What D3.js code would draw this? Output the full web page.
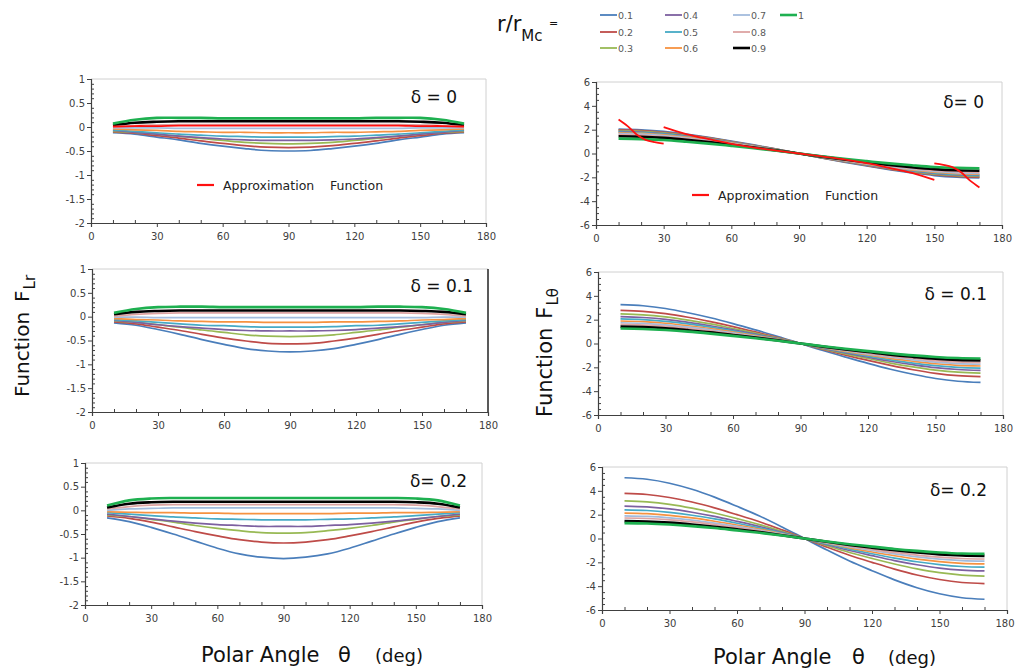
<!DOCTYPE html>
<html>
<head>
<meta charset="utf-8">
<script src="https://cdn.jsdelivr.net/npm/d3@7"></script>
<style>
  body { margin: 0; background: #fff; }
  svg text { font-family: "DejaVu Sans", Verdana, sans-serif; }
</style>
</head>
<body>
<svg id="chart" width="1015" height="670"></svg>
<script>
// Polar angle samples (deg)
const theta = [10, 20, 30, 40, 50, 60, 70, 80, 90, 100, 110, 120, 130, 140, 150, 160, 170];

// r / r_Mc series
const rRatios = ["0.1", "0.2", "0.3", "0.4", "0.5", "0.6", "0.7", "0.8", "0.9", "1"];

// Radial function F_Lr, delta = 0
const fLr_d0 = [
  [-0.12,-0.15,-0.21,-0.27,-0.34,-0.40,-0.45,-0.49,-0.50,-0.49,-0.45,-0.40,-0.34,-0.27,-0.21,-0.15,-0.12],
  [-0.10,-0.13,-0.18,-0.23,-0.29,-0.34,-0.39,-0.42,-0.43,-0.42,-0.39,-0.34,-0.29,-0.23,-0.18,-0.13,-0.10],
  [-0.09,-0.11,-0.15,-0.19,-0.24,-0.28,-0.32,-0.34,-0.35,-0.34,-0.32,-0.28,-0.24,-0.19,-0.15,-0.11,-0.09],
  [-0.07,-0.11,-0.15,-0.19,-0.22,-0.25,-0.27,-0.28,-0.28,-0.28,-0.27,-0.25,-0.22,-0.19,-0.15,-0.11,-0.07],
  [-0.06,-0.09,-0.12,-0.15,-0.17,-0.19,-0.20,-0.21,-0.21,-0.21,-0.20,-0.19,-0.17,-0.15,-0.12,-0.09,-0.06],
  [-0.04,-0.06,-0.07,-0.09,-0.10,-0.11,-0.11,-0.12,-0.12,-0.12,-0.11,-0.11,-0.10,-0.09,-0.07,-0.06,-0.04],
  [-0.02,-0.02,-0.02,-0.03,-0.03,-0.03,-0.03,-0.03,-0.03,-0.03,-0.03,-0.03,-0.03,-0.03,-0.02,-0.02,-0.02],
  [0.00,0.03,0.04,0.05,0.05,0.05,0.05,0.05,0.05,0.05,0.05,0.05,0.05,0.05,0.04,0.03,0.00],
  [0.04,0.09,0.11,0.12,0.12,0.12,0.12,0.12,0.12,0.12,0.12,0.12,0.12,0.12,0.11,0.09,0.04],
  [0.07,0.15,0.19,0.19,0.19,0.18,0.18,0.18,0.18,0.18,0.18,0.18,0.19,0.19,0.19,0.15,0.07]
];
// Approximation of F_Lr, delta = 0
const fLrApprox_d0 = [0.01,0.02,0.02,0.03,0.03,0.03,0.03,0.03,0.03,0.03,0.03,0.03,0.03,0.03,0.02,0.02,0.01];

// Radial function F_Lr, delta = 0.1
const fLr_d01 = [
  [-0.13,-0.18,-0.27,-0.37,-0.48,-0.58,-0.67,-0.72,-0.74,-0.72,-0.67,-0.58,-0.48,-0.37,-0.27,-0.18,-0.13],
  [-0.11,-0.15,-0.22,-0.29,-0.37,-0.45,-0.51,-0.56,-0.57,-0.56,-0.51,-0.45,-0.37,-0.29,-0.22,-0.15,-0.11],
  [-0.09,-0.12,-0.17,-0.22,-0.28,-0.33,-0.38,-0.41,-0.42,-0.41,-0.38,-0.33,-0.28,-0.22,-0.17,-0.12,-0.09],
  [-0.08,-0.12,-0.17,-0.21,-0.24,-0.27,-0.29,-0.30,-0.30,-0.30,-0.29,-0.27,-0.24,-0.21,-0.17,-0.12,-0.08],
  [-0.06,-0.09,-0.12,-0.15,-0.18,-0.19,-0.21,-0.22,-0.22,-0.22,-0.21,-0.19,-0.18,-0.15,-0.12,-0.09,-0.06],
  [-0.04,-0.06,-0.07,-0.09,-0.10,-0.11,-0.11,-0.12,-0.12,-0.12,-0.11,-0.11,-0.10,-0.09,-0.07,-0.06,-0.04],
  [-0.01,-0.01,-0.02,-0.02,-0.02,-0.02,-0.02,-0.02,-0.02,-0.02,-0.02,-0.02,-0.02,-0.02,-0.02,-0.01,-0.01],
  [0.01,0.05,0.07,0.08,0.08,0.08,0.08,0.08,0.08,0.08,0.08,0.08,0.08,0.08,0.07,0.05,0.01],
  [0.05,0.10,0.12,0.13,0.13,0.13,0.13,0.13,0.13,0.13,0.13,0.13,0.13,0.13,0.12,0.10,0.05],
  [0.08,0.16,0.20,0.21,0.21,0.20,0.20,0.20,0.20,0.20,0.20,0.20,0.21,0.21,0.20,0.16,0.08]
];

// Radial function F_Lr, delta = 0.2
const fLr_d02 = [
  [-0.16,-0.24,-0.36,-0.50,-0.65,-0.80,-0.92,-0.99,-1.02,-0.99,-0.92,-0.80,-0.65,-0.50,-0.36,-0.24,-0.16],
  [-0.12,-0.17,-0.25,-0.35,-0.45,-0.54,-0.62,-0.67,-0.69,-0.67,-0.62,-0.54,-0.45,-0.35,-0.25,-0.17,-0.12],
  [-0.10,-0.13,-0.19,-0.25,-0.32,-0.38,-0.43,-0.47,-0.48,-0.47,-0.43,-0.38,-0.32,-0.25,-0.19,-0.13,-0.10],
  [-0.08,-0.13,-0.18,-0.23,-0.27,-0.30,-0.32,-0.34,-0.34,-0.34,-0.32,-0.30,-0.27,-0.23,-0.18,-0.13,-0.08],
  [-0.05,-0.08,-0.11,-0.14,-0.16,-0.18,-0.19,-0.20,-0.20,-0.20,-0.19,-0.18,-0.16,-0.14,-0.11,-0.08,-0.05],
  [-0.03,-0.04,-0.05,-0.05,-0.06,-0.06,-0.07,-0.07,-0.07,-0.07,-0.07,-0.06,-0.06,-0.05,-0.05,-0.04,-0.03],
  [0.00,0.03,0.04,0.05,0.05,0.05,0.05,0.05,0.05,0.05,0.05,0.05,0.05,0.05,0.04,0.03,0.00],
  [0.03,0.08,0.11,0.12,0.12,0.12,0.12,0.12,0.12,0.12,0.12,0.12,0.12,0.12,0.11,0.08,0.03],
  [0.06,0.14,0.17,0.18,0.18,0.18,0.18,0.18,0.18,0.18,0.18,0.18,0.18,0.18,0.17,0.14,0.06],
  [0.10,0.21,0.25,0.26,0.26,0.26,0.26,0.26,0.26,0.26,0.26,0.26,0.26,0.26,0.25,0.21,0.10]
];

// Tangential function F_Ltheta, delta = 0
const fLt_d0 = [
  [2.05,1.99,1.85,1.62,1.35,1.05,0.72,0.37,0,-0.37,-0.72,-1.05,-1.35,-1.62,-1.85,-1.99,-2.05],
  [1.98,1.92,1.78,1.56,1.31,1.01,0.69,0.36,0,-0.36,-0.69,-1.01,-1.31,-1.56,-1.78,-1.92,-1.98],
  [1.92,1.86,1.73,1.52,1.27,0.98,0.67,0.35,0,-0.35,-0.67,-0.98,-1.27,-1.52,-1.73,-1.86,-1.92],
  [1.86,1.80,1.67,1.47,1.23,0.95,0.65,0.33,0,-0.33,-0.65,-0.95,-1.23,-1.47,-1.67,-1.80,-1.86],
  [1.80,1.75,1.62,1.42,1.19,0.92,0.63,0.32,0,-0.32,-0.63,-0.92,-1.19,-1.42,-1.62,-1.75,-1.80],
  [1.74,1.69,1.57,1.37,1.15,0.89,0.61,0.31,0,-0.31,-0.61,-0.89,-1.15,-1.37,-1.57,-1.69,-1.74],
  [1.67,1.62,1.50,1.32,1.10,0.85,0.58,0.30,0,-0.30,-0.58,-0.85,-1.10,-1.32,-1.50,-1.62,-1.67],
  [1.58,1.53,1.42,1.25,1.04,0.81,0.55,0.28,0,-0.28,-0.55,-0.81,-1.04,-1.25,-1.42,-1.53,-1.58],
  [1.45,1.41,1.31,1.15,0.96,0.74,0.51,0.26,0,-0.26,-0.51,-0.74,-0.96,-1.15,-1.31,-1.41,-1.45],
  [1.25,1.21,1.13,0.99,0.83,0.64,0.44,0.23,0,-0.23,-0.44,-0.64,-0.83,-0.99,-1.13,-1.21,-1.25]
];
// Approximation of F_Ltheta, delta = 0 (three branches)
const approxTheta1 = [10, 14, 18, 22, 26, 30];
const approxValue1 = [2.85, 2.30, 1.60, 1.15, 0.95, 0.83];
const approxTheta2 = [30, 40, 50, 60, 70, 80, 90, 100, 110, 120, 130, 140, 150];
const approxValue2 = [2.21, 1.63, 1.20, 0.81, 0.50, 0.25, 0, -0.25, -0.50, -0.81, -1.20, -1.63, -2.21];
const approxTheta3 = [150, 154, 158, 162, 166, 170];
const approxValue3 = [-0.83, -0.95, -1.15, -1.60, -2.30, -2.85];

// Tangential function F_Ltheta, delta = 0.1
const fLt_d01 = [
  [3.27,3.17,2.94,2.58,2.16,1.67,1.14,0.59,0,-0.59,-1.14,-1.67,-2.16,-2.58,-2.94,-3.17,-3.27],
  [2.78,2.70,2.50,2.20,1.83,1.42,0.97,0.50,0,-0.50,-0.97,-1.42,-1.83,-2.20,-2.50,-2.70,-2.78],
  [2.48,2.41,2.23,1.96,1.64,1.26,0.87,0.45,0,-0.45,-0.87,-1.26,-1.64,-1.96,-2.23,-2.41,-2.48],
  [2.25,2.18,2.03,1.78,1.49,1.15,0.79,0.41,0,-0.41,-0.79,-1.15,-1.49,-1.78,-2.03,-2.18,-2.25],
  [2.07,2.01,1.86,1.64,1.37,1.06,0.72,0.37,0,-0.37,-0.72,-1.06,-1.37,-1.64,-1.86,-2.01,-2.07],
  [1.89,1.83,1.70,1.49,1.25,0.96,0.66,0.34,0,-0.34,-0.66,-0.96,-1.25,-1.49,-1.70,-1.83,-1.89],
  [1.74,1.69,1.57,1.37,1.15,0.89,0.61,0.31,0,-0.31,-0.61,-0.89,-1.15,-1.37,-1.57,-1.69,-1.74],
  [1.60,1.55,1.44,1.26,1.06,0.82,0.56,0.29,0,-0.29,-0.56,-0.82,-1.06,-1.26,-1.44,-1.55,-1.60],
  [1.42,1.38,1.28,1.12,0.94,0.72,0.50,0.26,0,-0.26,-0.50,-0.72,-0.94,-1.12,-1.28,-1.38,-1.42],
  [1.26,1.22,1.13,1.00,0.83,0.64,0.44,0.23,0,-0.23,-0.44,-0.64,-0.83,-1.00,-1.13,-1.22,-1.26]
];

// Tangential function F_Ltheta, delta = 0.2
const fLt_d02 = [
  [5.10,4.97,4.64,4.13,3.47,2.70,1.89,0.97,0,-0.97,-1.89,-2.70,-3.47,-4.13,-4.64,-4.97,-5.10],
  [3.78,3.69,3.44,3.06,2.57,2.00,1.40,0.72,0,-0.72,-1.40,-2.00,-2.57,-3.06,-3.44,-3.69,-3.78],
  [3.15,3.07,2.87,2.55,2.14,1.67,1.17,0.60,0,-0.60,-1.17,-1.67,-2.14,-2.55,-2.87,-3.07,-3.15],
  [2.72,2.65,2.48,2.20,1.85,1.44,1.01,0.52,0,-0.52,-1.01,-1.44,-1.85,-2.20,-2.48,-2.65,-2.72],
  [2.41,2.35,2.19,1.95,1.64,1.28,0.89,0.46,0,-0.46,-0.89,-1.28,-1.64,-1.95,-2.19,-2.35,-2.41],
  [2.13,2.08,1.94,1.73,1.45,1.13,0.79,0.40,0,-0.40,-0.79,-1.13,-1.45,-1.73,-1.94,-2.08,-2.13],
  [1.90,1.85,1.73,1.54,1.29,1.01,0.70,0.36,0,-0.36,-0.70,-1.01,-1.29,-1.54,-1.73,-1.85,-1.90],
  [1.72,1.68,1.57,1.39,1.17,0.91,0.64,0.33,0,-0.33,-0.64,-0.91,-1.17,-1.39,-1.57,-1.68,-1.72],
  [1.46,1.42,1.33,1.18,0.99,0.77,0.54,0.28,0,-0.28,-0.54,-0.77,-0.99,-1.18,-1.33,-1.42,-1.46],
  [1.29,1.26,1.17,1.04,0.88,0.68,0.48,0.25,0,-0.25,-0.48,-0.68,-0.88,-1.04,-1.17,-1.26,-1.29]
];

// Axis ticks
const xTicks = [0, 30, 60, 90, 120, 150, 180];
const xMinorTicks = [10, 20, 40, 50, 70, 80, 100, 110, 130, 140, 160, 170];
const yTicksLr = [1, 0.5, 0, -0.5, -1, -1.5, -2];
const yTicksLt = [6, 4, 2, 0, -2, -4, -6];

// Series styling
const seriesColors = ["#4A7EBB", "#BE4B48", "#98B954", "#7D60A0", "#46AAC5", "#F69240",
                      "#A3BCDD", "#DDA3A2", "#000000", "#1EB050"];
const seriesWidths = [1.7, 1.7, 1.7, 1.7, 1.7, 1.7, 1.7, 1.7, 2.6, 2.6];

const svg = d3.select("#chart");

const panels = [
  { rows: fLr_d0, approx: [[theta, fLrApprox_d0]], left: 91, right: 486, top: 79, bottom: 223,
    domain: [-2, 1], ticks: yTicksLr, minorStep: 0.1, label: "δ = 0", lx: 457, ly: 103,
    legend: { x: 197, y: 185 } },
  { rows: fLt_d0, approx: [[approxTheta1, approxValue1], [approxTheta2, approxValue2], [approxTheta3, approxValue3]],
    left: 596, right: 1002, top: 82, bottom: 225,
    domain: [-6, 6], ticks: yTicksLt, minorStep: 0.5, label: "δ= 0", lx: 984, ly: 108,
    legend: { x: 692, y: 195 } },
  { rows: fLr_d01, left: 92, right: 488, top: 269, bottom: 412, rightDark: true,
    domain: [-2, 1], ticks: yTicksLr, minorStep: 0.1, label: "δ = 0.1", lx: 473, ly: 292 },
  { rows: fLt_d01, left: 598, right: 1003, top: 272, bottom: 415,
    domain: [-6, 6], ticks: yTicksLt, minorStep: 0.5, label: "δ = 0.1", lx: 987, ly: 300 },
  { rows: fLr_d02, left: 85, right: 482, top: 463, bottom: 605,
    domain: [-2, 1], ticks: yTicksLr, minorStep: 0.1, label: "δ= 0.2", lx: 467, ly: 487 },
  { rows: fLt_d02, left: 602, right: 1007, top: 467, bottom: 610, edgeLabel: true,
    domain: [-6, 6], ticks: yTicksLt, minorStep: 0.5, label: "δ= 0.2", lx: 987, ly: 496 }
];

function drawPanel(p) {
  const x = d3.scaleLinear().domain([0, 180]).range([p.left, p.right]);
  const y = d3.scaleLinear().domain(p.domain).range([p.bottom, p.top]);
  const g = svg.append("g");

  // plot frame (top / right)
  g.append("line").attr("x1", p.left).attr("x2", p.right).attr("y1", p.top).attr("y2", p.top)
    .attr("stroke", "#d0d0d0").attr("stroke-width", 1);
  g.append("line").attr("x1", p.right).attr("x2", p.right).attr("y1", p.top).attr("y2", p.bottom)
    .attr("stroke", p.rightDark ? "#222" : "#d0d0d0").attr("stroke-width", p.rightDark ? 1.5 : 1);

  // series curves
  const line = d3.line().x((d, i) => x(theta[i])).y(d => y(d)).curve(d3.curveCatmullRom.alpha(0.5));
  p.rows.forEach((row, k) => {
    g.append("path").attr("d", line(row)).attr("fill", "none")
      .attr("stroke", seriesColors[k]).attr("stroke-width", seriesWidths[k])
      .attr("stroke-linejoin", "round");
  });

  // approximation function
  if (p.approx) {
    p.approx.forEach(([ts, vs]) => {
      const l = d3.line().x((d, i) => x(ts[i])).y(d => y(d)).curve(d3.curveCatmullRom.alpha(0.5));
      g.append("path").attr("d", l(vs)).attr("fill", "none")
        .attr("stroke", "#FF1010").attr("stroke-width", 1.8);
    });
  }

  // x axis
  g.append("g").attr("transform", `translate(0,${p.bottom})`)
    .call(d3.axisBottom(x).tickValues(xTicks).tickSize(4).tickPadding(6).tickFormat(d => d));
  g.append("g").attr("transform", `translate(0,${p.bottom})`)
    .call(d3.axisTop(x).tickValues(xMinorTicks).tickSize(3).tickFormat(""))
    .call(s => s.select(".domain").remove());

  // y axis
  g.append("g").attr("transform", `translate(${p.left},0)`)
    .call(d3.axisLeft(y).tickValues(p.ticks).tickSize(4).tickPadding(2).tickFormat(d => String(d)));
  const minor = d3.range(p.domain[0], p.domain[1] + 1e-9, p.minorStep)
    .filter(v => !p.ticks.some(t => Math.abs(t - v) < 1e-6));
  g.append("g").attr("transform", `translate(${p.left},0)`)
    .call(d3.axisRight(y).tickValues(minor).tickSize(3).tickFormat(""))
    .call(s => s.select(".domain").remove());

  g.selectAll(".domain").attr("stroke", "#404040").attr("stroke-width", 1.2);
  g.selectAll(".tick line").attr("stroke", "#404040");
  g.selectAll(".tick text").attr("fill", "#404040").attr("font-size", 10)
    .attr("font-family", "'DejaVu Sans', Verdana, sans-serif");

  // keep the last x label inside the page edge
  if (p.edgeLabel) {
    g.selectAll(".tick text").filter(d => d === 180).attr("text-anchor", "end").attr("x", 1014 - p.right);
  }

  // delta label
  g.append("text").attr("x", p.lx).attr("y", p.ly).attr("text-anchor", "end")
    .attr("font-size", 17).attr("fill", "#111").text(p.label);

  // approximation legend
  if (p.legend) {
    g.append("line").attr("x1", p.legend.x).attr("x2", p.legend.x + 17)
      .attr("y1", p.legend.y).attr("y2", p.legend.y)
      .attr("stroke", "#FF1010").attr("stroke-width", 2.2);
    g.append("text").attr("x", p.legend.x + 26).attr("y", p.legend.y + 4.5)
      .attr("font-size", 12.5).attr("fill", "#222").text("Approximation");
    g.append("text").attr("x", p.legend.x + 133).attr("y", p.legend.y + 4.5)
      .attr("font-size", 12.5).attr("fill", "#222").text("Function");
  }
}

panels.forEach(drawPanel);

// Series legend
const legendCols = [600, 665, 733, 780];
const legendRows = [15, 32, 48];
rRatios.forEach((r, k) => {
  const cx = legendCols[Math.floor(k / 3)];
  const cy = legendRows[k % 3];
  svg.append("line").attr("x1", cx).attr("x2", cx + 17).attr("y1", cy).attr("y2", cy)
    .attr("stroke", seriesColors[k]).attr("stroke-width", k >= 8 ? 2.6 : 1.8);
  svg.append("text").attr("x", cx + 18).attr("y", cy + 3.5).attr("font-size", 9.5)
    .attr("fill", "#595959").text(r);
});

// "r/r_Mc =" heading
const head = svg.append("text").attr("x", 497).attr("y", 31).attr("font-size", 21).attr("fill", "#111");
head.append("tspan").text("r/r");
head.append("tspan").attr("dy", 10).attr("font-size", 15).text("Mc");
svg.append("text").attr("x", 549).attr("y", 27).attr("font-size", 11).attr("fill", "#111").text("=");

// Y axis titles
const yl = svg.append("text").attr("transform", "translate(29,397) rotate(-90)")
  .attr("font-size", 20).attr("fill", "#111");
yl.append("tspan").text("Function");
yl.append("tspan").attr("dx", 10).text("F");
yl.append("tspan").attr("dy", 6).attr("dx", 1).attr("font-size", 15).text("Lr");

const yr = svg.append("text").attr("transform", "translate(552,417) rotate(-90)")
  .attr("font-size", 21).attr("fill", "#111");
yr.append("tspan").text("Function");
yr.append("tspan").attr("dx", 9).text("F");
yr.append("tspan").attr("dy", 6).attr("dx", 1).attr("font-size", 15).text("Lθ");

// X axis titles
function xTitle(x0, xTheta, xDeg, base) {
  svg.append("text").attr("x", x0).attr("y", base).attr("font-size", 21).attr("fill", "#111").text("Polar Angle");
  svg.append("text").attr("x", xTheta).attr("y", base).attr("font-size", 21).attr("fill", "#111").text("θ");
  svg.append("text").attr("x", xDeg).attr("y", base).attr("font-size", 18).attr("fill", "#111").text("(deg)");
}
xTitle(201, 338, 375, 662);
xTitle(713, 852, 888, 664);
</script>
</body>
</html>
